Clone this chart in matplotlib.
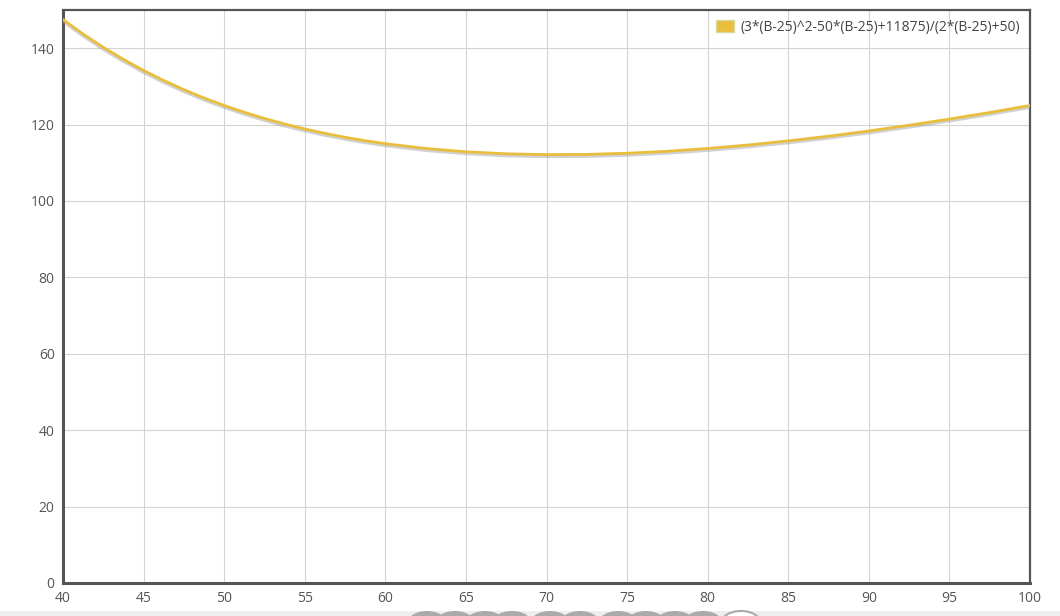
import matplotlib.pyplot as plt
from matplotlib.patches import Circle, Rectangle
import matplotlib.patheffects as pe

plt.rcParams['font.family'] = ['Open Sans', 'DejaVu Sans']

# values
b_values = [40, 41.25, 42.5, 43.75, 45, 46.25, 47.5, 48.75, 50, 51.25, 52.5, 53.75,
            55, 56.25, 57.5, 58.75, 60, 62.5, 65, 67.5, 70, 72.5, 75, 77.5, 80,
            82.5, 85, 87.5, 90, 92.5, 95, 97.5, 100]
y_values = [147.5, 143.69, 140.22, 137.05, 134.17, 131.54, 129.14, 126.97, 125.0,
            123.22, 121.61, 120.16, 118.86, 117.71, 116.68, 115.78, 115.0, 113.75,
            112.88, 112.36, 112.14, 112.2, 112.5, 113.02, 113.75, 114.66, 115.74,
            116.96, 118.33, 119.83, 121.45, 123.17, 125.0]
x_ticks = list(range(40, 101, 5))
y_ticks = list(range(0, 141, 20))
label = '(3*(B-25)^2-50*(B-25)+11875)/(2*(B-25)+50)'

fig = plt.figure(figsize=(10.6, 6.16), dpi=100)
W, H = 1060, 616
ax = fig.add_axes([63 / W, 1 - 583 / H, (1030 - 63) / W, (583 - 10) / H])

ax.plot(b_values, y_values, color='#E8BE3C', lw=2.0, solid_capstyle='round',
        solid_joinstyle='round',
        path_effects=[pe.SimpleLineShadow(offset=(0, -1.5), shadow_color='#999999', alpha=0.45),
                      pe.Normal()], zorder=3)

ax.set_xlim(40, 100)
ax.set_ylim(0, 150)
ax.set_xticks(x_ticks)
ax.set_yticks(y_ticks)
ax.grid(True, color='#d4d4d4', lw=0.8)
ax.tick_params(length=0, labelsize=10, labelcolor='#555555', pad=6)
for side, sp in ax.spines.items():
    sp.set_color('#555555')
    sp.set_linewidth(2.2 if side in ('left', 'bottom') else 1.6)

patch = Rectangle((0, 0), 1, 1, facecolor='#E8BE3C', edgecolor='#d8d8a0')
ax.legend([patch], [label], loc='upper right', frameon=False, fontsize=10,
          handlelength=1.3, handleheight=1.0, handletextpad=0.45,
          labelcolor='#444444', borderaxespad=0.3)

# bottom navigation strip (cut off in the original)
fig.patches.append(Rectangle((0, 0), 1, 5 / H, transform=fig.transFigure,
                             facecolor='#eeeeee', edgecolor='none'))
for cx in [427, 455, 485, 512, 550, 580, 618, 646, 675, 703]:
    fig.patches.append(Circle((cx / W, -6 / H), 11 / H, transform=fig.transFigure,
                              facecolor='#aaaaaa', edgecolor='none'))
fig.patches.append(Circle((741 / W, -6 / H), 11 / H, transform=fig.transFigure,
                          facecolor='white', edgecolor='#aaaaaa', lw=1.5))

fig.savefig('out.png', dpi=100)
